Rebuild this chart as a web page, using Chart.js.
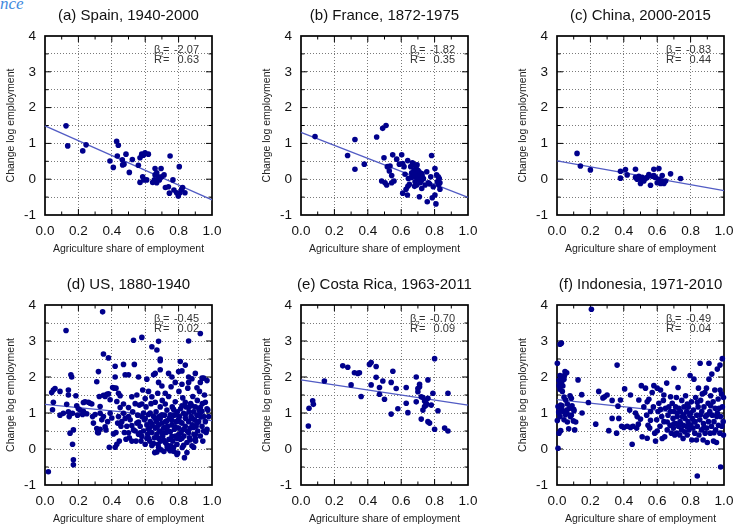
<!DOCTYPE html>
<html><head><meta charset="utf-8">
<script src="https://cdn.jsdelivr.net/npm/chart.js@4.4.1/dist/chart.umd.min.js"></script>
<style>
html,body{margin:0;padding:0;width:734px;height:524px;overflow:hidden;background:#fff;position:relative;}
canvas{position:absolute;}
#frag{position:absolute;left:0;top:-5px;font:italic 17px/17px "Liberation Serif",serif;color:#3f8ade;white-space:nowrap;}
</style></head><body>
<div id="frag">nce</div>
<canvas id="pa" width="245" height="262" style="left:0;top:0"></canvas>
<canvas id="pb" width="245" height="262" style="left:256px;top:0"></canvas>
<canvas id="pc" width="222" height="262" style="left:512px;top:0"></canvas>
<canvas id="pd" width="245" height="254" style="left:0;top:270px"></canvas>
<canvas id="pe" width="245" height="254" style="left:256px;top:270px"></canvas>
<canvas id="pf" width="222" height="254" style="left:512px;top:270px"></canvas>
<script>
// ---------- data (agriculture share, change in log employment) ----------
const panelTitles = ['(a) Spain, 1940-2000','(b) France, 1872-1975','(c) China, 2000-2015','(d) US, 1880-1940','(e) Costa Rica, 1963-2011','(f) Indonesia, 1971-2010'];
const betas = ['-2.07','-1.82','-0.83','-0.45','-0.70','-0.49'];
const rSquared = ['0.63','0.35','0.44','0.02','0.09','0.04'];
const xTickLabels = ['0.0','0.2','0.4','0.6','0.8','1.0'];
const yTickLabels = ['-1','0','1','2','3','4'];

// fitted line values at share = 0 and share = 1
const spainFit = [1.49,-0.58];
const franceFit = [1.31,-0.51];
const chinaFit = [0.51,-0.32];
const usFit = [1.24,0.79];
const costaRicaFit = [1.92,1.22];
const indonesiaFit = [1.37,0.88];

const spainPoints = [[0.126,1.49],[0.136,0.93],[0.226,0.79],[0.246,0.96],[0.389,0.51],[0.409,0.33],[0.429,1.06],[0.439,0.95],[0.433,0.65],[0.463,0.54],[0.465,0.40],[0.473,0.42],[0.485,0.70],[0.505,0.19],[0.523,0.55],[0.559,0.39],[0.569,-0.09],[0.569,0.60],[0.579,0.70],[0.585,0.07],[0.593,-0.02],[0.599,0.74],[0.609,-0.02],[0.619,0.70],[0.589,0.67],[0.645,-0.09],[0.655,-0.02],[0.659,0.30],[0.659,0.12],[0.669,0.18],[0.669,-0.10],[0.679,0.07],[0.685,-0.02],[0.695,0.30],[0.699,0.07],[0.713,0.12],[0.721,-0.23],[0.739,-0.21],[0.745,-0.39],[0.749,0.65],[0.766,-0.02],[0.772,-0.30],[0.788,-0.38],[0.798,-0.47],[0.804,0.35],[0.808,-0.38],[0.818,-0.28],[0.824,-0.23],[0.838,-0.38]];

const francePoints = [[0.084,1.19],[0.279,0.66],[0.323,1.11],[0.323,0.28],[0.379,0.42],[0.453,1.18],[0.489,1.42],[0.509,1.50],[0.483,-0.05],[0.497,0.60],[0.503,-0.10],[0.513,-0.16],[0.517,0.35],[0.529,0.23],[0.533,0.37],[0.543,0.10],[0.543,-0.10],[0.549,0.68],[0.557,-0.05],[0.573,0.56],[0.589,0.42],[0.603,0.68],[0.609,0.44],[0.609,-0.39],[0.617,0.35],[0.623,0.14],[0.629,-0.28],[0.637,-0.44],[0.639,0.52],[0.643,0.02],[0.649,-0.14],[0.657,0.35],[0.663,0.18],[0.667,0.46],[0.673,0.42],[0.673,0.07],[0.677,0.26],[0.681,0.16],[0.683,-0.07],[0.689,0.07],[0.689,0.30],[0.693,-0.16],[0.697,0.12],[0.699,0.02],[0.707,0.21],[0.709,-0.49],[0.713,-0.10],[0.717,0.07],[0.723,0.16],[0.723,-0.26],[0.733,0.02],[0.743,-0.16],[0.753,0.21],[0.756,-0.63],[0.763,-0.10],[0.769,-0.13],[0.777,0.07],[0.782,0.66],[0.786,-0.52],[0.792,-0.21],[0.802,0.30],[0.802,-0.44],[0.808,-0.69],[0.812,0.12],[0.816,-0.07],[0.822,0.07],[0.824,-0.16],[0.828,0.02],[0.832,-0.28],[0.832,-0.10],[0.660,0.05],[0.680,-0.20],[0.700,0.25],[0.720,-0.05],[0.640,-0.20],[0.695,0.40],[0.705,-0.02],[0.725,0.10]];

const chinaPoints = [[0.12,0.72],[0.14,0.37],[0.20,0.26],[0.38,0.22],[0.38,0.03],[0.41,0.27],[0.42,0.12],[0.47,0.28],[0.47,0.05],[0.48,0.0],[0.49,0.08],[0.50,-0.12],[0.50,0.02],[0.51,0.05],[0.52,-0.05],[0.53,0.02],[0.54,0.05],[0.55,0.13],[0.56,-0.17],[0.57,0.08],[0.58,0.28],[0.58,0.10],[0.59,0.05],[0.60,-0.10],[0.61,0.0],[0.61,0.30],[0.62,-0.12],[0.63,0.10],[0.63,-0.05],[0.64,-0.12],[0.65,-0.05],[0.68,0.15],[0.74,0.02]];

const usPoints = [[0.02,-0.63],[0.126,3.29],[0.345,3.81],[0.93,3.21],[0.86,3.0],[0.53,3.02],[0.58,3.1],[0.68,2.99],[0.35,2.64],[0.38,2.53],[0.64,2.84],[0.67,2.75],[0.69,2.5],[0.69,2.45],[0.81,2.43],[0.84,2.33],[0.42,2.30],[0.47,2.35],[0.535,2.35],[0.32,2.15],[0.69,2.2],[0.82,2.17],[0.155,2.06],[0.16,2.0],[0.42,2.0],[0.48,2.06],[0.50,2.06],[0.56,2.0],[0.61,1.94],[0.65,2.06],[0.66,2.1],[0.74,2.1],[0.80,2.15],[0.90,2.1],[0.94,1.97],[0.95,1.97],[0.31,1.87],[0.05,1.64],[0.06,1.68],[0.04,1.57],[0.09,1.6],[0.14,1.64],[0.185,1.48],[0.14,1.5],[0.26,1.3],[0.28,1.25],[0.23,1.29],[0.325,1.46],[0.33,1.18],[0.36,1.46],[0.405,1.71],[0.415,1.69],[0.425,1.69],[0.44,1.55],[0.45,1.48],[0.38,1.53],[0.39,1.37],[0.045,1.09],[0.05,1.3],[0.13,1.24],[0.14,1.03],[0.09,0.94],[0.11,0.99],[0.165,0.99],[0.19,1.2],[0.20,1.12],[0.21,1.08],[0.195,0.94],[0.225,0.96],[0.15,0.44],[0.17,0.53],[0.145,0.9],[0.165,0.13],[0.17,-0.3],[0.17,-0.44],[0.285,0.9],[0.29,0.72],[0.31,0.57],[0.315,0.46],[0.30,0.96],[0.33,0.99],[0.34,0.81],[0.35,0.9],[0.365,0.53],[0.375,0.76],[0.385,0.05],[0.42,0.05],[0.425,0.46],[0.43,0.13],[0.435,0.72],[0.44,0.9],[0.445,0.22],[0.455,0.63],[0.46,0.76],[0.47,0.99],[0.475,0.46],[0.485,0.27],[0.49,0.63],[0.50,0.9],[0.505,0.31],[0.51,0.81],[0.52,0.22],[0.525,1.03],[0.53,0.53],[0.54,1.26],[0.545,0.22],[0.55,0.72],[0.555,0.94],[0.56,0.41],[0.565,1.22],[0.57,0.63],[0.575,0.22],[0.58,0.9],[0.585,1.64],[0.59,0.5],[0.595,0.81],[0.60,0.13],[0.605,1.17],[0.61,0.67],[0.615,0.41],[0.62,0.96],[0.625,0.58],[0.627,0.22],[0.63,0.76],[0.635,1.26],[0.64,0.46],[0.642,0.65],[0.65,0.9],[0.655,0.31],[0.657,-0.1],[0.66,0.58],[0.665,1.03],[0.667,0.76],[0.67,0.41],[0.675,1.55],[0.677,0.13],[0.68,0.67],[0.685,0.9],[0.687,0.5],[0.69,1.17],[0.692,0.22],[0.695,-0.02],[0.70,0.72],[0.702,1.35],[0.705,0.36],[0.71,0.58],[0.712,-0.07],[0.715,0.94],[0.72,0.18],[0.722,0.76],[0.725,0.46],[0.73,1.08],[0.732,0.04],[0.735,0.63],[0.74,1.46],[0.742,0.27],[0.745,0.85],[0.75,0.48],[0.752,0.09],[0.755,1.73],[0.76,0.67],[0.762,1.17],[0.765,0.22],[0.77,0.94],[0.772,-0.07],[0.775,0.55],[0.78,1.31],[0.782,0.36],[0.785,0.76],[0.79,0.13],[0.792,1.03],[0.795,-0.11],[0.80,0.58],[0.802,1.6],[0.805,0.9],[0.81,0.27],[0.812,1.12],[0.815,0.46],[0.82,0.72],[0.822,0.04],[0.825,1.42],[0.83,0.99],[0.832,0.36],[0.835,-0.24],[0.84,0.63],[0.842,0.85],[0.845,1.17],[0.85,0.18],[0.852,0.5],[0.855,1.69],[0.86,0.76],[0.862,1.03],[0.865,0.31],[0.87,0.58],[0.872,1.26],[0.875,0.9],[0.88,0.09],[0.882,0.67],[0.885,1.46],[0.89,1.03],[0.892,0.41],[0.895,0.81],[0.90,1.17],[0.902,0.22],[0.905,0.63],[0.91,0.94],[0.912,1.35],[0.915,0.5],[0.92,0.76],[0.922,1.08],[0.925,1.6],[0.93,0.36],[0.932,0.9],[0.94,0.63],[0.942,1.26],[0.945,0.22],[0.95,0.5],[0.952,0.9],[0.955,1.5],[0.96,0.76],[0.97,1.12],[0.965,0.46],[0.975,1.08],[0.23,1.05],[0.25,0.98],[0.27,1.27],[0.24,1.31],[0.35,1.49],[0.37,1.52],[0.39,0.99],[0.33,0.55],[0.32,0.45],[0.36,0.62],[0.40,0.86],[0.41,0.42],[0.62,0.3],[0.64,0.1],[0.66,1.3],[0.68,0.05],[0.7,0.95],[0.72,1.25],[0.74,0.0],[0.76,0.35],[0.78,0.62],[0.8,0.82],[0.82,0.3],[0.84,1.3],[0.86,0.45],[0.88,1.2],[0.9,0.4],[0.92,0.95],[0.94,1.05],[0.96,1.3],[0.97,0.55],[0.98,0.9],[0.88,0.85],[0.86,1.15],[0.84,0.95],[0.82,1.2],[0.8,0.4],[0.78,0.95],[0.76,0.8],[0.74,0.5],[0.72,0.6],[0.7,0.45],[0.68,0.3],[0.66,0.85],[0.64,0.7],[0.62,0.55],[0.6,0.85],[0.58,0.35],[0.56,0.75],[0.54,0.5],[0.52,0.65],[0.5,0.45],[0.48,0.85],[0.87,0.25],[0.89,0.6],[0.91,0.72],[0.93,1.15],[0.83,0.55],[0.81,0.75],[0.79,0.3],[0.77,1.1],[0.75,0.95],[0.73,0.78],[0.71,0.25],[0.69,0.85],[0.67,0.6],[0.65,0.15],[0.63,1.0],[0.61,0.3],[0.59,1.0],[0.57,0.45],[0.62,1.6],[0.7,1.75],[0.72,1.55],[0.78,1.85],[0.82,1.8],[0.86,1.85],[0.88,1.95],[0.91,1.7],[0.93,1.85],[0.76,2.0],[0.68,1.85],[0.64,1.45],[0.6,1.4],[0.55,1.5],[0.52,1.45],[0.5,1.15],[0.47,1.25],[0.45,1.15],[0.43,1.32],[0.86,2.0],[0.97,1.9],[0.58,1.25],[0.67,-0.08],[0.75,-0.05],[0.79,-0.15],[0.85,-0.1],[0.83,0.1],[0.77,0.05],[0.73,0.12],[0.89,0.05],[0.9,0.3]];

const costaRicaPoints = [[0.044,0.64],[0.048,1.13],[0.07,1.34],[0.074,1.24],[0.14,1.89],[0.25,2.31],[0.28,2.27],[0.30,1.78],[0.32,2.12],[0.34,2.10],[0.35,2.12],[0.36,1.46],[0.41,2.35],[0.42,2.40],[0.42,1.78],[0.45,2.29],[0.45,1.99],[0.47,1.71],[0.47,1.52],[0.49,1.89],[0.50,1.38],[0.54,1.85],[0.55,2.16],[0.54,0.97],[0.57,1.68],[0.58,1.12],[0.63,1.71],[0.63,1.27],[0.64,1.01],[0.69,2.0],[0.69,1.31],[0.70,1.59],[0.70,1.68],[0.71,1.80],[0.71,1.73],[0.72,1.45],[0.72,0.83],[0.73,1.08],[0.73,1.43],[0.74,1.18],[0.74,1.33],[0.75,1.27],[0.75,1.22],[0.76,0.76],[0.76,1.92],[0.76,1.41],[0.77,0.72],[0.78,1.22],[0.79,1.55],[0.80,2.51],[0.80,0.55],[0.82,1.06],[0.86,0.58],[0.88,1.55],[0.88,0.50]];

const indonesiaPoints = [[0.206,3.88],[0.018,2.91],[0.026,2.94],[0.002,2.38],[0.36,2.33],[0.99,2.51],[0.976,2.33],[0.91,2.38],[0.70,2.24],[0.048,2.15],[0.058,2.12],[0.018,2.04],[0.032,1.99],[0.042,1.94],[0.012,1.76],[0.018,1.66],[0.032,1.6],[0.012,1.9],[0.126,1.92],[0.148,1.51],[0.042,1.44],[0.052,1.36],[0.078,1.48],[0.062,1.25],[0.086,1.41],[0.022,1.22],[0.006,1.18],[0.012,0.99],[0.018,0.9],[0.026,1.1],[0.038,1.04],[0.058,1.08],[0.074,1.13],[0.086,0.94],[0.102,1.06],[0.112,0.75],[0.098,0.78],[0.062,0.75],[0.042,0.81],[0.012,0.44],[0.006,0.02],[0.022,0.51],[0.106,0.53],[0.002,0.79],[0.188,1.29],[0.232,0.69],[0.25,1.6],[0.275,1.42],[0.285,1.45],[0.31,0.51],[0.33,0.85],[0.357,0.44],[0.365,1.19],[0.37,0.85],[0.38,1.36],[0.387,0.63],[0.405,1.67],[0.42,0.63],[0.435,1.08],[0.45,0.13],[0.455,0.63],[0.477,0.58],[0.48,0.9],[0.487,0.69],[0.49,1.36],[0.50,0.83],[0.505,1.76],[0.51,0.34],[0.52,1.17],[0.53,1.69],[0.537,0.94],[0.54,1.31],[0.545,0.66],[0.55,1.38],[0.555,0.58],[0.56,1.04],[0.57,1.57],[0.577,1.17],[0.58,1.76],[0.585,0.44],[0.59,0.22],[0.597,0.81],[0.60,1.69],[0.605,1.04],[0.61,1.27],[0.617,0.63],[0.62,1.64],[0.627,0.9],[0.63,0.29],[0.637,1.35],[0.64,0.76],[0.645,0.34],[0.65,1.13],[0.657,1.83],[0.66,0.53],[0.665,0.94],[0.67,1.17],[0.677,0.66],[0.68,1.04],[0.685,0.44],[0.69,1.27],[0.695,0.85],[0.697,0.58],[0.70,1.04],[0.705,0.39],[0.71,1.17],[0.712,0.71],[0.715,1.43],[0.717,0.44],[0.72,0.9],[0.725,1.71],[0.727,0.63],[0.73,1.13],[0.735,0.39],[0.737,0.76],[0.74,1.04],[0.745,0.53],[0.747,1.35],[0.75,0.9],[0.755,0.29],[0.757,0.66],[0.76,1.17],[0.765,0.48],[0.767,0.85],[0.77,1.48],[0.775,0.63],[0.777,1.04],[0.78,0.39],[0.785,0.76],[0.787,1.17],[0.79,0.53],[0.795,0.94],[0.797,2.04],[0.80,0.66],[0.805,1.31],[0.807,0.25],[0.81,0.85],[0.815,0.58],[0.817,1.08],[0.82,1.94],[0.825,0.44],[0.827,0.76],[0.83,1.43],[0.835,0.25],[0.837,0.94],[0.84,0.63],[0.84,-0.75],[0.845,1.17],[0.847,1.69],[0.85,0.39],[0.855,0.81],[0.857,2.38],[0.86,1.35],[0.865,0.53],[0.867,1.04],[0.87,1.53],[0.875,0.25],[0.877,0.71],[0.88,1.17],[0.885,1.57],[0.887,0.44],[0.89,0.9],[0.895,1.69],[0.897,0.58],[0.90,0.18],[0.905,1.27],[0.907,0.76],[0.91,1.94],[0.915,1.04],[0.917,0.44],[0.92,1.48],[0.925,0.63],[0.927,2.08],[0.93,0.94],[0.935,1.31],[0.937,0.22],[0.94,0.76],[0.945,1.64],[0.947,1.13],[0.95,0.53],[0.955,0.18],[0.957,0.9],[0.96,2.22],[0.965,1.39],[0.967,0.66],[0.97,1.13],[0.975,0.44],[0.977,1.64],[0.98,0.9],[0.98,-0.5],[0.985,1.53],[0.987,0.63],[0.99,1.17],[0.995,0.76],[0.997,1.43],[0.997,0.39],[0.01,1.03],[0.03,1.2],[0.05,0.95],[0.06,1.0],[0.08,0.9],[0.09,1.2],[0.1,1.1],[0.07,0.56],[0.035,1.75],[0.028,1.85],[0.045,2.05],[0.15,1.0],[0.62,1.1],[0.66,0.75],[0.72,1.0],[0.74,0.7],[0.76,0.95],[0.78,1.25],[0.8,1.0],[0.82,0.75],[0.84,1.3],[0.86,0.95],[0.88,0.6],[0.9,0.95],[0.92,1.2],[0.94,0.45],[0.96,1.0],[0.68,1.45],[0.7,0.7],[0.64,1.5],[0.6,0.5],[0.56,0.8],[0.54,0.3],[0.47,1.0],[0.44,1.5],[0.4,0.6],[0.33,1.35],[0.3,1.5],[0.44,0.6]];

// ---------- styling ----------
const FONT = '"Liberation Sans", Arial, Helvetica, sans-serif';
const POINT_COLOR = 'rgb(0,0,140)';
const LINE_COLOR = 'rgb(82,92,196)';
const GRID_COLOR = '#7a7a7a';

const panelPlugin = {
  id: 'panelDecor',
  beforeDatasetsDraw(chart) {
    const {ctx, chartArea: a, scales: {x, y}} = chart;
    ctx.save();
    ctx.strokeStyle = '#000';
    ctx.lineWidth = 1;
    ctx.beginPath();
    for (let i = 1; i < 10; i++) {
      const v = i / 10, px = x.getPixelForValue(v), len = (i % 2 === 0) ? 6 : 3.5;
      ctx.moveTo(px, a.bottom); ctx.lineTo(px, a.bottom - len);
      ctx.moveTo(px, a.top); ctx.lineTo(px, a.top + len);
    }
    for (let i = 1; i < 10; i++) {
      const v = -1 + i * 0.5, py = y.getPixelForValue(v), len = (i % 2 === 0) ? 6 : 3.5;
      ctx.moveTo(a.left, py); ctx.lineTo(a.left + len, py);
      ctx.moveTo(a.right, py); ctx.lineTo(a.right - len, py);
    }
    ctx.stroke();
    ctx.lineWidth = 1.7;
    ctx.strokeRect(a.left, a.top, a.right - a.left, a.bottom - a.top);
    ctx.restore();
  },
  afterDraw(chart, args, opts) {
    const {ctx, chartArea: a} = chart;
    const cx = (a.left + a.right) / 2, cy = (a.top + a.bottom) / 2;
    ctx.save();
    ctx.fillStyle = '#111';
    ctx.textBaseline = 'alphabetic';
    ctx.textAlign = 'center';
    ctx.font = '15px ' + FONT;
    ctx.fillText(opts.title, cx, a.top - 16.5);
    ctx.font = '10.5px ' + FONT;
    ctx.fillStyle = '#222';
    ctx.fillText('Agriculture share of employment', cx, a.bottom + 37);
    ctx.save();
    ctx.translate(a.left - 33.5, cy);
    ctx.rotate(-Math.PI / 2);
    ctx.textBaseline = 'middle';
    ctx.fillText('Change log employment', 0, 0);
    ctx.restore();
    // statistics box
    const R = a.right, y1 = a.top + 16.5, y2 = a.top + 27;
    ctx.fillStyle = '#333';
    ctx.font = '11px ' + FONT;
    ctx.textAlign = 'left';
    ctx.fillText('β', R - 58, y1);
    ctx.fillText('=', R - 49, y1);
    ctx.fillText('R', R - 58, y2);
    ctx.fillText('=', R - 49, y2);
    ctx.textAlign = 'right';
    ctx.fillText(opts.beta, R - 13, y1);
    ctx.fillText(opts.r2, R - 13, y2);
    ctx.textAlign = 'left';
    ctx.font = '7.5px ' + FONT;
    ctx.fillText('2', R - 52.5, a.top + 21);
    ctx.restore();
  }
};

function makePanel(id, idx, points, fit, topRow, canvasW) {
  const canvasH = topRow ? 262 : 254;
  const padTop = topRow ? 36 : 35;
  const plotBottom = 215;
  new Chart(document.getElementById(id), {
    type: 'scatter',
    data: {
      datasets: [
        { data: points.map(p => ({x: p[0], y: p[1]})), pointRadius: 2.8, pointHoverRadius: 2.8,
          pointBackgroundColor: POINT_COLOR, pointBorderWidth: 0, borderWidth: 0, order: 0, clip: false },
        { data: [{x: 0, y: fit[0]}, {x: 1, y: fit[1]}], showLine: true, pointRadius: 0,
          borderColor: LINE_COLOR, borderWidth: 1.3, order: 1, clip: false }
      ]
    },
    options: {
      responsive: false, animation: false, events: [],
      layout: { padding: {top: padTop, left: 0, right: canvasW - 212, bottom: 0}, autoPadding: false },
      plugins: {
        legend: {display: false}, tooltip: {enabled: false}, title: {display: false},
        panelDecor: { title: panelTitles[idx], beta: betas[idx], r2: rSquared[idx] }
      },
      scales: {
        x: {
          type: 'linear', min: 0, max: 1,
          ticks: { stepSize: 0.2, autoSkip: false, maxRotation: 0, minRotation: 0, padding: 8,
            color: '#111', font: {family: FONT, size: 13.5},
            callback: (v) => xTickLabels[Math.round(v * 5)] ?? '' },
          grid: { drawTicks: false, lineWidth: 1,
            color: (c) => (c.tick && (Math.abs(c.tick.value) < 1e-9 || Math.abs(c.tick.value - 1) < 1e-9)) ? 'rgba(0,0,0,0)' : GRID_COLOR },
          border: { display: false, dash: [1, 2] },
          afterFit: (s) => { s.height = canvasH - plotBottom; s.paddingLeft = 0; s.paddingRight = 0; }
        },
        y: {
          type: 'linear', min: -1, max: 4,
          ticks: { stepSize: 0.5, autoSkip: false, padding: 9, color: '#111', font: {family: FONT, size: 13.5},
            callback: (v) => Number.isInteger(v) ? yTickLabels[v + 1] : '' },
          grid: { drawTicks: false, lineWidth: 1,
            color: (c) => (c.tick && (Math.abs(c.tick.value + 1) < 1e-9 || Math.abs(c.tick.value - 4) < 1e-9)) ? 'rgba(0,0,0,0)' : GRID_COLOR },
          border: { display: false, dash: [1, 2] },
          afterFit: (s) => { s.width = 45; s.paddingTop = 0; s.paddingBottom = 0; }
        }
      }
    },
    plugins: [panelPlugin]
  });
}

makePanel('pa', 0, spainPoints, spainFit, true, 245);
makePanel('pb', 1, francePoints, franceFit, true, 245);
makePanel('pc', 2, chinaPoints, chinaFit, true, 222);
makePanel('pd', 3, usPoints, usFit, false, 245);
makePanel('pe', 4, costaRicaPoints, costaRicaFit, false, 245);
makePanel('pf', 5, indonesiaPoints, indonesiaFit, false, 222);
</script>
</body></html>
